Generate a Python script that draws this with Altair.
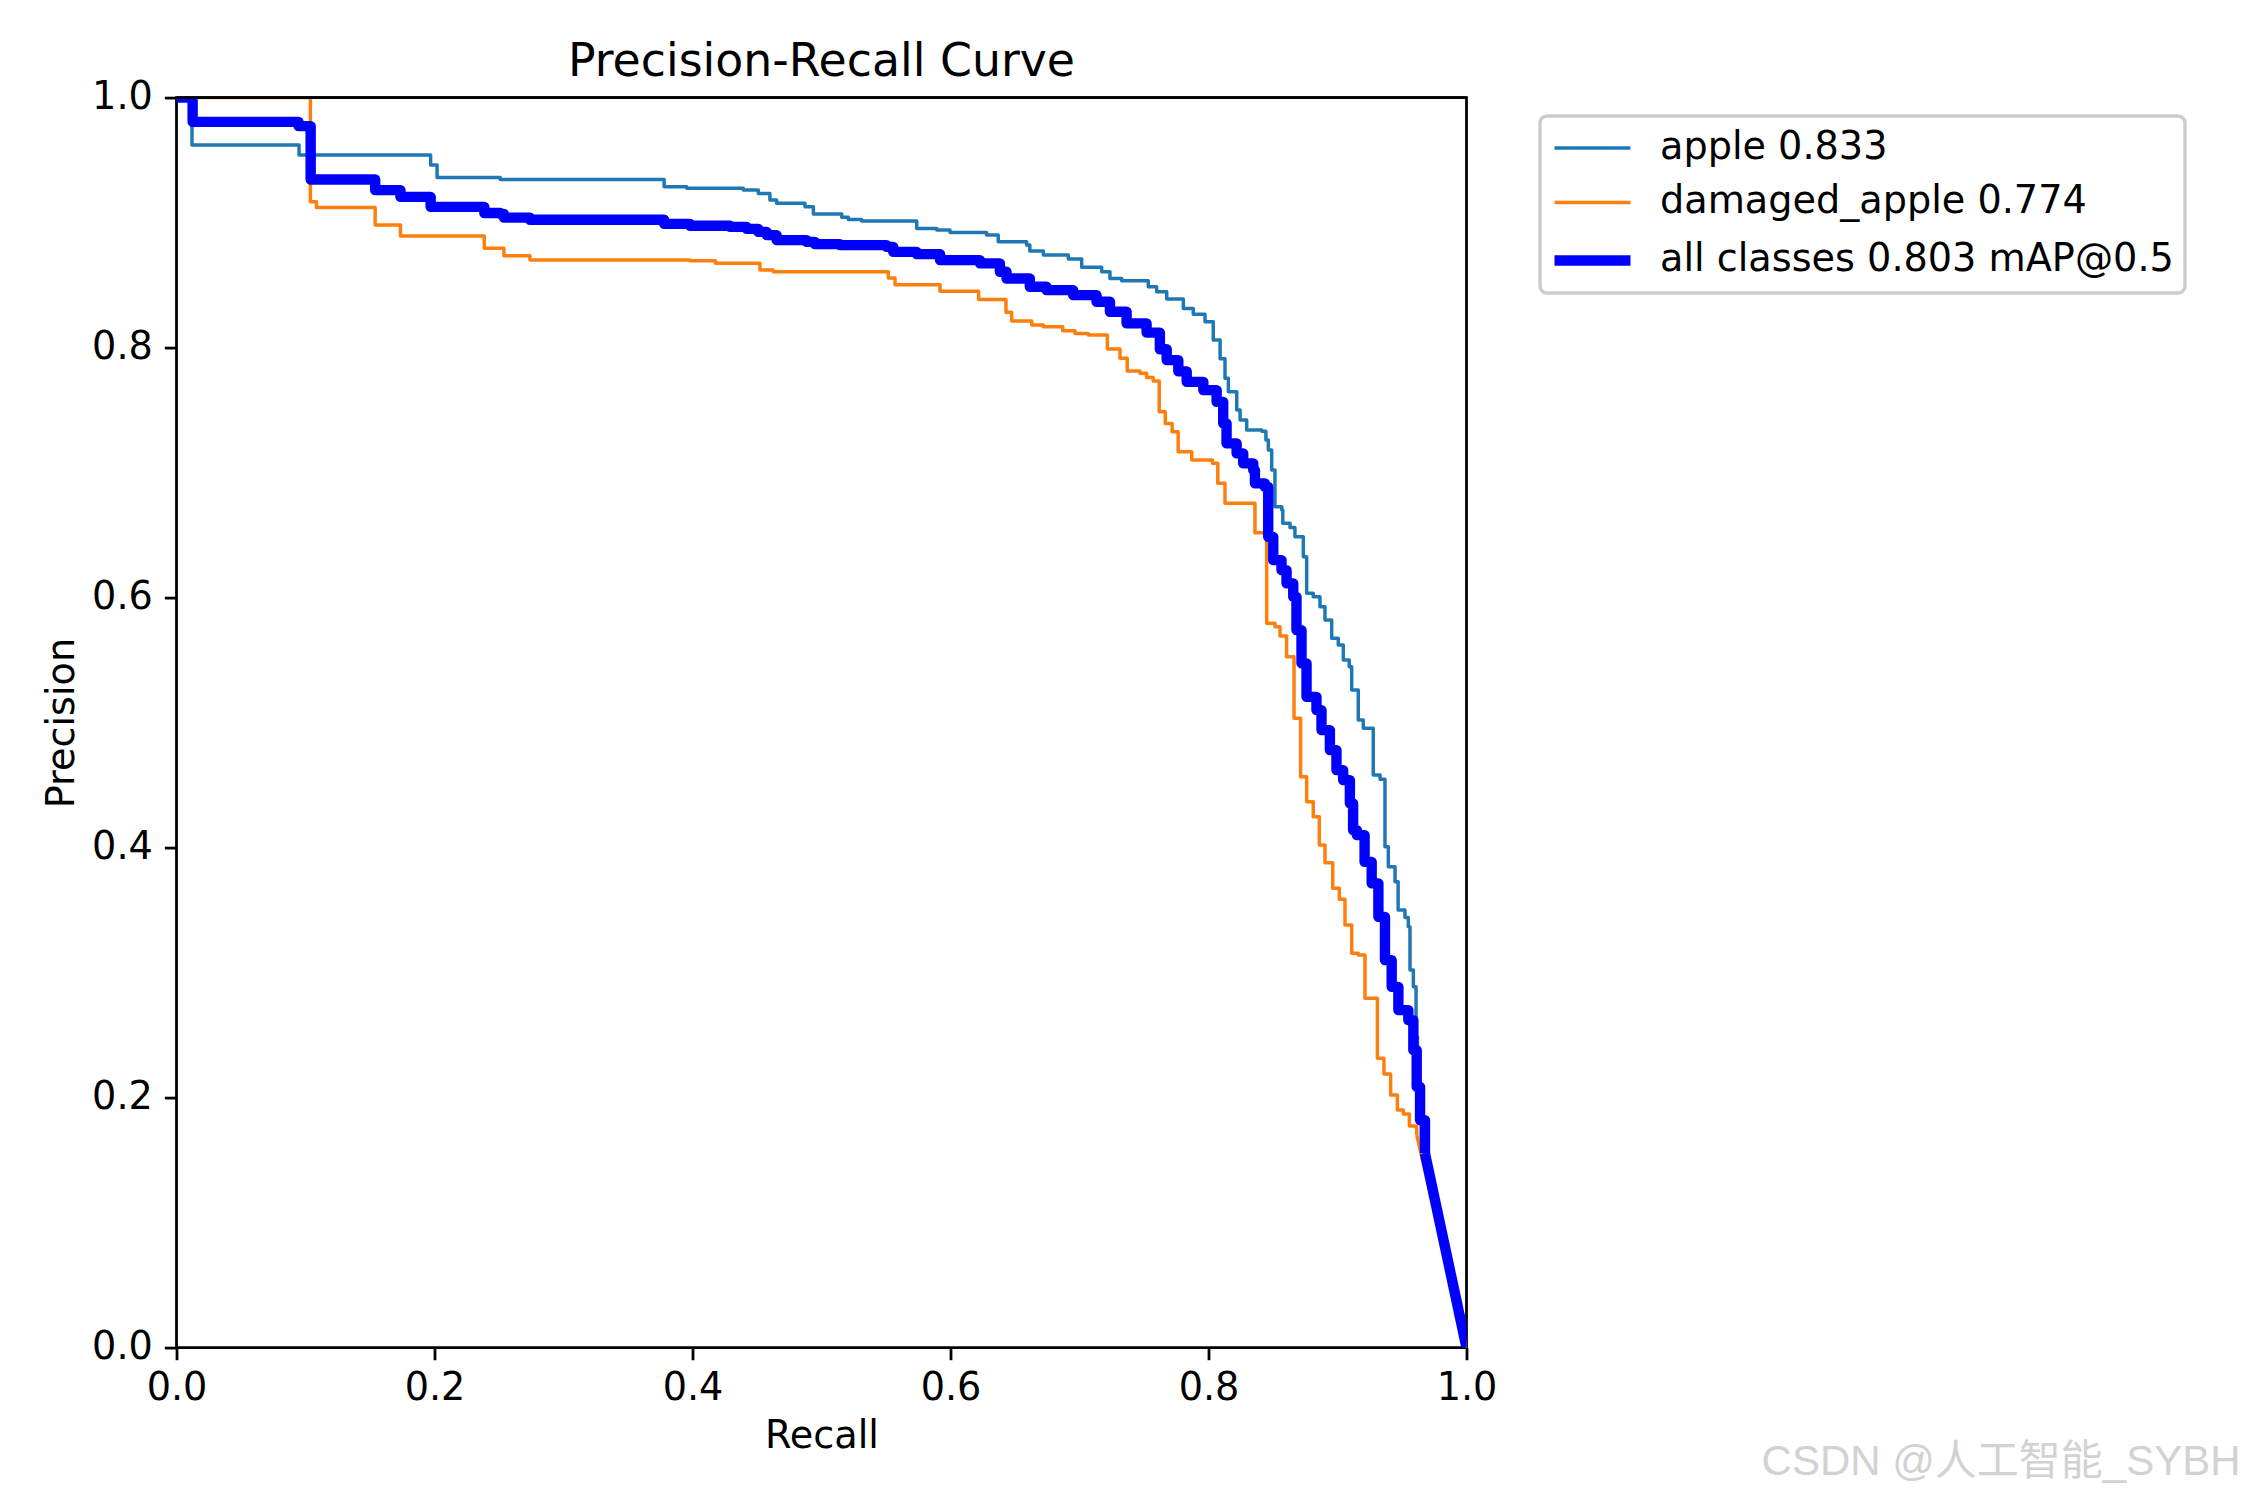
import altair as alt
import pandas as pd

# ---------------- data ----------------
series_names = ["apple 0.833", "damaged_apple 0.774", "all classes 0.803 mAP@0.5"]
series_colors = ["#1f77b4", "#ff7f0e", "#0000ff"]
series_widths = [3.47, 3.47, 10.4]

# step-curves: (recall where a precision level starts, precision level)
apple_recall = [0.0, 0.012, 0.095, 0.197, 0.202, 0.251, 0.378, 0.3955, 0.4394, 0.451,
                0.460, 0.4652, 0.4872, 0.4937, 0.5157, 0.5208, 0.5311, 0.5738, 0.5893, 0.5996,
                0.628, 0.637, 0.659, 0.6615, 0.672, 0.6913, 0.7017, 0.7172, 0.7236, 0.7327,
                0.7533, 0.7598, 0.7676, 0.7805, 0.7882, 0.7973, 0.8037, 0.809, 0.8128, 0.8154,
                0.8219, 0.8245, 0.8296, 0.8413, 0.8445, 0.8464, 0.849, 0.8515, 0.8568, 0.8576,
                0.8632, 0.867, 0.8735, 0.8761, 0.8812, 0.8864, 0.8903, 0.8955, 0.9006, 0.9045,
                0.9091, 0.911, 0.9161, 0.920, 0.9277, 0.933, 0.9368, 0.9394, 0.9446, 0.947,
                0.9523, 0.9549, 0.9562, 0.9588, 0.9609, 0.962, 0.9635, 0.965]
apple_precision = [1.0, 0.962, 0.954, 0.946, 0.936, 0.9345, 0.9286, 0.9274, 0.926, 0.9233,
                   0.918, 0.9154, 0.9126, 0.9068, 0.9042, 0.9025, 0.9012, 0.8953, 0.894, 0.8921,
                   0.890, 0.8847, 0.882, 0.8772, 0.874, 0.8708, 0.8642, 0.8607, 0.8553, 0.8534,
                   0.8487, 0.8447, 0.8388, 0.8313, 0.8266, 0.8206, 0.806, 0.791, 0.7754, 0.7647,
                   0.750, 0.742, 0.734, 0.733, 0.726, 0.718, 0.702, 0.6726, 0.670, 0.6594,
                   0.656, 0.6486, 0.6326, 0.6034, 0.6006, 0.5926, 0.582, 0.5674, 0.562, 0.550,
                   0.5446, 0.526, 0.502, 0.4954, 0.458, 0.4547, 0.4006, 0.3846, 0.3726, 0.350,
                   0.344, 0.3366, 0.302, 0.2886, 0.2486, 0.2356, 0.19, 0.165]

damaged_recall = [0.0, 0.1038, 0.1085, 0.154, 0.1736, 0.2386, 0.2538, 0.274, 0.3981, 0.4178,
                  0.4523, 0.4626, 0.5518, 0.557, 0.5919, 0.6218, 0.643, 0.6474, 0.663, 0.672,
                  0.687, 0.6965, 0.7068, 0.7216, 0.7314, 0.737, 0.7469, 0.752, 0.7571, 0.7618,
                  0.7665, 0.7718, 0.7765, 0.787, 0.803, 0.8072, 0.8128, 0.836, 0.8451, 0.8515,
                  0.8554, 0.8605, 0.8663, 0.8714, 0.8761, 0.8812, 0.8859, 0.8903, 0.8963, 0.9014,
                  0.9058, 0.911, 0.9161, 0.9213, 0.9309, 0.936, 0.9412, 0.9464, 0.951, 0.9557,
                  0.9614]
damaged_precision = [1.0, 0.9167, 0.9121, 0.898, 0.8892, 0.8794, 0.8734, 0.870, 0.8695, 0.8674,
                     0.862, 0.8607, 0.8556, 0.8503, 0.845, 0.8385, 0.8282, 0.8212, 0.818, 0.8167,
                     0.8135, 0.8113, 0.810, 0.7988, 0.7914, 0.7812, 0.7794, 0.776, 0.7732, 0.7487,
                     0.7393, 0.7327, 0.7166, 0.710, 0.7074, 0.6914, 0.6754, 0.6518, 0.5794, 0.5767,
                     0.5692, 0.5526, 0.5034, 0.4566, 0.4366, 0.4246, 0.402, 0.3878, 0.3674, 0.3586,
                     0.338, 0.3154, 0.314, 0.2794, 0.2314, 0.2188, 0.202, 0.190, 0.1868, 0.1772,
                     0.170]

all_recall = [0.0, 0.0125, 0.0946, 0.104, 0.154, 0.1736, 0.197, 0.2386, 0.251, 0.2538,
              0.274, 0.378, 0.3981, 0.4291, 0.442, 0.451, 0.4575, 0.4652, 0.4885, 0.4949,
              0.5143, 0.5505, 0.5556, 0.5738, 0.5919, 0.6228, 0.6383, 0.6434, 0.6615, 0.6744,
              0.6951, 0.7132, 0.7236, 0.7365, 0.752, 0.7623, 0.7676, 0.7766, 0.7831, 0.796,
              0.8063, 0.8114, 0.814, 0.8218, 0.8269, 0.8347, 0.836, 0.8437, 0.8463, 0.8502,
              0.8566, 0.8605, 0.8657, 0.8682, 0.8721, 0.876, 0.8837, 0.8876, 0.8941, 0.8992,
              0.9044, 0.9096, 0.9121, 0.915, 0.921, 0.9265, 0.9317, 0.9368, 0.942, 0.9472,
              0.9549, 0.9588, 0.9614, 0.964, 0.9678]
all_precision = [1.0, 0.9806, 0.9772, 0.9345, 0.926, 0.9206, 0.9126, 0.9077, 0.907, 0.904,
                 0.9023, 0.899, 0.8975, 0.8966, 0.895, 0.8926, 0.890, 0.886, 0.8846, 0.8828,
                 0.882, 0.8806, 0.8766, 0.8748, 0.870, 0.8674, 0.8607, 0.8553, 0.8487, 0.846,
                 0.842, 0.8367, 0.8287, 0.8194, 0.812, 0.7987, 0.790, 0.781, 0.7726, 0.766,
                 0.7566, 0.7394, 0.7234, 0.7154, 0.7074, 0.702, 0.6914, 0.6886, 0.6486, 0.630,
                 0.622, 0.6114, 0.6006, 0.574, 0.5474, 0.5206, 0.510, 0.494, 0.478, 0.462,
                 0.454, 0.4354, 0.414, 0.410, 0.3886, 0.3714, 0.3446, 0.310, 0.2886, 0.270,
                 0.262, 0.238, 0.2086, 0.182, 0.1554]

# every curve closes with a straight segment to (recall 1.0, precision 0.0)
end_recall = 1.0
end_precision = 0.0

title_text = "Precision-Recall Curve"
x_title = "Recall"
y_title = "Precision"
tick_values = [0.0, 0.2, 0.4, 0.6, 0.8, 1.0]
axis_top = [1.0]
watermark_text = "CSDN @人工智能_SYBH"

# ---------------- tables ----------------
curves = [(apple_recall, apple_precision), (damaged_recall, damaged_precision),
          (all_recall, all_precision)]

step_rows, tail_rows = [], []
for name, (rec, prec) in zip(series_names, curves):
    for i, (r, p) in enumerate(zip(rec, prec)):
        step_rows.append({"series": name, "recall": r, "precision": p, "i": i})
    tail_rows.append({"series": name, "recall": rec[-1], "precision": prec[-1], "i": 0})
    tail_rows.append({"series": name, "recall": end_recall, "precision": end_precision, "i": 1})
steps = pd.DataFrame(step_rows)
tails = pd.DataFrame(tail_rows)

FONT = "DejaVu Sans"
FS = 38.2

legend = alt.Legend(
    title=None, orient="none", legendX=1363.5, legendY=18.4,
    symbolType="M-2,0H2", symbolSize=1444, symbolOffset=17,
    labelFontSize=FS, labelFont=FONT, labelColor="black", labelLimit=2000, labelOffset=43,
    padding=11, rowPadding=14.5,
    strokeColor="#cccccc", cornerRadius=7, fillColor="white",
)

x_enc = alt.X("recall:Q", scale=alt.Scale(domain=[0, 1], nice=False, zero=False),
              axis=alt.Axis(title=x_title, values=tick_values, format=".1f", titlePadding=11,
                            labelPadding=10, labelFlush=False))
y_enc = alt.Y("precision:Q", scale=alt.Scale(domain=[0, 1], nice=False, zero=False),
              axis=alt.Axis(title=y_title, values=tick_values, format=".1f", titlePadding=10,
                            labelPadding=12, labelFlush=False))
color_enc = alt.Color("series:N", scale=alt.Scale(domain=series_names, range=series_colors),
                      legend=legend)

layers = []
for name, lw in zip(series_names, series_widths):
    layers.append(
        alt.Chart(steps[steps.series == name]).mark_line(
            interpolate="step-after", clip=True, strokeJoin="round", strokeCap="butt",
            strokeWidth=lw,
        ).encode(x=x_enc, y=y_enc, color=color_enc, order="i:Q")
    )
    layers.append(
        alt.Chart(tails[tails.series == name]).mark_line(
            clip=True, strokeJoin="round", strokeCap="butt", strokeWidth=lw,
        ).encode(x=x_enc, y=y_enc, color=color_enc, order="i:Q")
    )

# an empty layer that only carries the line widths into the shared legend
legend_widths = alt.Chart(steps.iloc[0:0]).mark_line().encode(
    x=x_enc, y=y_enc, color=color_enc,
    strokeWidth=alt.StrokeWidth("series:N", scale=alt.Scale(type="ordinal", domain=series_names,
                                                             range=series_widths),
                                legend=legend),
)
layers.append(legend_widths)

# top spine drawn above the curves, as matplotlib does
top_spine = alt.Chart(pd.DataFrame({"p": axis_top})).mark_rule(
    color="black", strokeWidth=2.78
).encode(y=alt.Y("p:Q", scale=alt.Scale(domain=[0, 1], nice=False, zero=False)))
layers.append(top_spine)

watermark = alt.Chart(pd.DataFrame({"t": [watermark_text]})).mark_text(
    align="right", baseline="alphabetic", fontSize=42,
    font="Liberation Sans, Noto Sans CJK SC",
    color="#d2d2d2",
).encode(text="t:N", x=alt.value(2064), y=alt.value(1377))
layers.append(watermark)

chart = alt.layer(*layers).properties(
    width=1290, height=1250, background="white",
    title=alt.TitleParams(title_text, fontSize=45.8, font=FONT, fontWeight="normal",
                          anchor="middle", offset=-8, color="black", frame="group"),
    autosize=alt.AutoSizeParams(type="none"),
    padding={"left": 168.5, "top": 89.6, "right": 775, "bottom": 138},
).configure_view(
    stroke="black", strokeWidth=2.78
).configure_axis(
    grid=False, domain=False, labelFont=FONT, labelFontSize=FS, labelColor="black",
    titleFont=FONT, titleFontSize=FS, titleFontWeight="normal", titleColor="black",
    tickSize=12.15, tickWidth=2.78, tickColor="black",
).configure_legend(
    strokeWidth=3.4
)

chart.save("out.html", embed_options={"renderer": "svg", "actions": False})
